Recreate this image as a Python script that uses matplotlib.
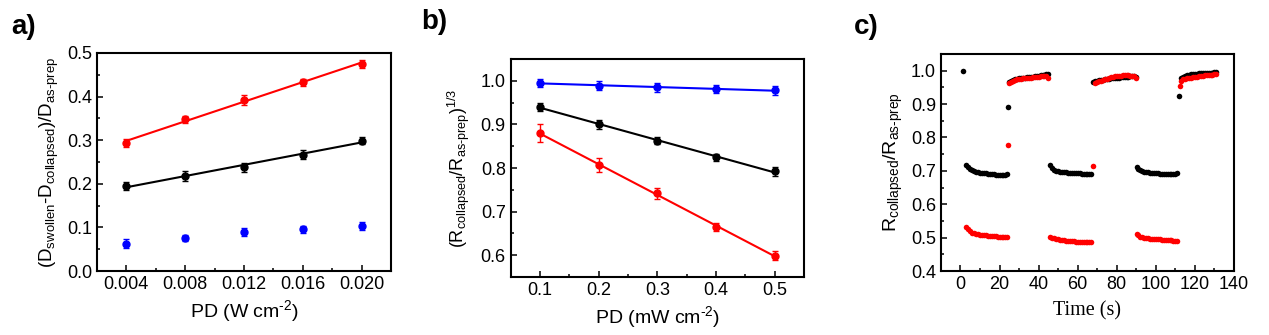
import numpy as np
import matplotlib
matplotlib.use("Agg")
import matplotlib.pyplot as plt
from matplotlib.ticker import MultipleLocator, AutoMinorLocator

plt.rcParams['font.family'] = ['Liberation Sans', 'DejaVu Sans']
plt.rcParams['mathtext.fontset'] = 'custom'
plt.rcParams['mathtext.rm'] = 'Liberation Sans'
plt.rcParams['mathtext.it'] = 'Liberation Sans:italic'
plt.rcParams['mathtext.bf'] = 'Liberation Sans:bold'

# ---- panel a: relative size change vs power density ----
pd_a = [0.004, 0.008, 0.012, 0.016, 0.020]
a_red = [0.293, 0.348, 0.392, 0.433, 0.475]
a_red_err = [0.009, 0.008, 0.011, 0.008, 0.009]
a_black = [0.195, 0.218, 0.238, 0.267, 0.299]
a_black_err = [0.010, 0.011, 0.010, 0.010, 0.008]
a_blue = [0.063, 0.076, 0.089, 0.096, 0.103]
a_blue_err = [0.010, 0.007, 0.009, 0.008, 0.010]

# ---- panel b: cube-root resistance ratio vs power density ----
pd_b = [0.1, 0.2, 0.3, 0.4, 0.5]
b_blue = [0.995, 0.989, 0.985, 0.981, 0.978]
b_blue_err = [0.010, 0.011, 0.011, 0.009, 0.011]
b_black = [0.940, 0.900, 0.863, 0.825, 0.792]
b_black_err = [0.010, 0.010, 0.007, 0.008, 0.010]
b_red = [0.880, 0.806, 0.742, 0.665, 0.599]
b_red_err = [0.021, 0.016, 0.013, 0.009, 0.010]

# ---- panel c: switching cycles over time ----
black_t = [1.5,
           3, 4, 5, 6, 7, 8, 9, 10, 11, 12, 13, 14, 15, 16, 17, 18, 19, 20, 21, 22, 23, 24,
           24.5,
           25, 26, 27, 28, 29, 30, 31, 32, 33, 34, 35, 36, 37, 38, 39, 40, 41, 42, 43, 44, 45,
           46, 47, 48, 49, 50, 51, 52, 53, 54, 55, 56, 57, 58, 59, 60, 61, 62, 63, 64, 65, 66, 67,
           68, 69, 70, 71, 72, 73, 74, 75, 76, 77, 78, 79, 80, 81, 82, 83, 84, 85, 86, 87, 88, 89, 90,
           90.5, 91, 92, 93, 94, 95, 96, 97, 98, 99, 100, 101, 102, 103, 104, 105, 106, 107, 108, 109, 110, 111,
           112,
           113, 114, 115, 116, 117, 118, 119, 120, 121, 122, 123, 124, 125, 126, 127, 128, 129, 130, 131]
black_r = [1.000,
           0.718, 0.712, 0.706, 0.701, 0.698, 0.696, 0.695, 0.694, 0.693, 0.693, 0.692, 0.691,
           0.690, 0.690, 0.689, 0.688, 0.688, 0.687, 0.687, 0.686, 0.686, 0.690,
           0.892,
           0.965, 0.970, 0.973, 0.975, 0.976, 0.977, 0.978, 0.978, 0.979, 0.980, 0.981, 0.981,
           0.982, 0.983, 0.984, 0.985, 0.986, 0.987, 0.988, 0.989, 0.991,
           0.716, 0.708, 0.703, 0.700, 0.698, 0.697, 0.696, 0.695, 0.695, 0.694, 0.694, 0.693,
           0.693, 0.692, 0.692, 0.692, 0.691, 0.691, 0.691, 0.691, 0.690, 0.689,
           0.966, 0.968, 0.970, 0.971, 0.972, 0.973, 0.974, 0.975, 0.976, 0.977, 0.977, 0.978,
           0.979, 0.979, 0.980, 0.981, 0.981, 0.982, 0.982, 0.983, 0.984, 0.983, 0.981,
           0.711, 0.706, 0.702, 0.699, 0.697, 0.696, 0.695, 0.694, 0.693, 0.693, 0.692, 0.692,
           0.691, 0.691, 0.691, 0.690, 0.690, 0.690, 0.690, 0.690, 0.690, 0.692,
           0.925,
           0.977, 0.982, 0.985, 0.987, 0.988, 0.989, 0.990, 0.991, 0.991, 0.992, 0.992, 0.993,
           0.993, 0.993, 0.994, 0.994, 0.994, 0.995, 0.996]

red_t = [3, 4, 5, 6, 7, 8, 9, 10, 11, 12, 13, 14, 15, 16, 17, 18, 19, 20, 21, 22, 23, 24,
         24.5,
         25, 26, 27, 28, 29, 30, 31, 32, 33, 34, 35, 36, 37, 38, 39, 40, 41, 42, 43, 44, 45,
         46, 47, 48, 49, 50, 51, 52, 53, 54, 55, 56, 57, 58, 59, 60, 61, 62, 63, 64, 65, 66, 67,
         68,
         69, 70, 71, 72, 73, 74, 75, 76, 77, 78, 79, 80, 81, 82, 83, 84, 85, 86, 87, 88, 89, 90,
         90.5, 91, 92, 93, 94, 95, 96, 97, 98, 99, 100, 101, 102, 103, 104, 105, 106, 107, 108, 109, 110, 111,
         112.5,
         113, 114, 115, 116, 117, 118, 119, 120, 121, 122, 123, 124, 125, 126, 127, 128, 129, 130, 131]
red_r = [0.533, 0.525, 0.519, 0.515, 0.513, 0.511, 0.510, 0.509, 0.508, 0.508, 0.507, 0.506,
         0.506, 0.505, 0.504, 0.504, 0.503, 0.503, 0.502, 0.502, 0.501, 0.501,
         0.777,
         0.962, 0.967, 0.970, 0.972, 0.974, 0.975, 0.976, 0.977, 0.977, 0.978, 0.979, 0.979,
         0.980, 0.981, 0.982, 0.982, 0.983, 0.984, 0.984, 0.985, 0.977,
         0.503, 0.500, 0.498, 0.496, 0.495, 0.494, 0.493, 0.492, 0.491, 0.491, 0.490, 0.489,
         0.489, 0.488, 0.488, 0.487, 0.487, 0.487, 0.486, 0.486, 0.486, 0.486,
         0.715,
         0.962, 0.966, 0.968, 0.970, 0.972, 0.974, 0.976, 0.978, 0.980, 0.982, 0.983, 0.984,
         0.985, 0.985, 0.986, 0.986, 0.986, 0.986, 0.985, 0.985, 0.984, 0.979,
         0.512, 0.507, 0.503, 0.501, 0.500, 0.499, 0.498, 0.497, 0.497, 0.496, 0.496, 0.495,
         0.495, 0.494, 0.494, 0.493, 0.493, 0.492, 0.492, 0.491, 0.491, 0.491,
         0.955,
         0.970, 0.974, 0.976, 0.977, 0.978, 0.979, 0.980, 0.981, 0.982, 0.983, 0.984, 0.985,
         0.986, 0.986, 0.987, 0.988, 0.988, 0.989, 0.990]

RED, BLACK, BLUE = '#ff0000', '#000000', '#0000ff'
TICK_FS = 13
LABEL_FS = 14

fig = plt.figure(figsize=(12.69, 3.35), dpi=100)
ax_a = fig.add_axes([0.0764, 0.191, 0.2317, 0.651])
ax_b = fig.add_axes([0.4024, 0.173, 0.2311, 0.651])
ax_c = fig.add_axes([0.7415, 0.191, 0.2309, 0.648])


def style(ax):
    for s in ax.spines.values():
        s.set_linewidth(1.5)
    ax.tick_params(which='both', direction='in', top=False, right=False,
                   labelsize=TICK_FS, width=1.1)
    ax.tick_params(which='major', length=4.5)
    ax.tick_params(which='minor', length=2.5)
    ax.xaxis.set_minor_locator(AutoMinorLocator(2))
    ax.yaxis.set_minor_locator(AutoMinorLocator(2))


def points(ax, x, y, err, color, fit=True):
    ax.errorbar(x, y, yerr=err, fmt='o', color=color, ms=5, capsize=2.5,
                elinewidth=1.0, capthick=1.0, ecolor=color, zorder=3)
    if fit:
        k, b = np.polyfit(x, y, 1)
        xx = np.array([x[0], x[-1]])
        ax.plot(xx, k * xx + b, color=color, lw=1.5, zorder=2)


# panel a
points(ax_a, pd_a, a_red, a_red_err, RED)
points(ax_a, pd_a, a_black, a_black_err, BLACK)
points(ax_a, pd_a, a_blue, a_blue_err, BLUE, fit=False)
ax_a.set_xlim(0.002, 0.022)
ax_a.set_ylim(0.0, 0.5)
ax_a.set_xticks(pd_a)
ax_a.set_xticklabels(['0.004', '0.008', '0.012', '0.016', '0.020'])
ax_a.yaxis.set_major_locator(MultipleLocator(0.1))
style(ax_a)
ax_a.set_xlabel(r'PD (W cm$^{\text{-2}}$)', fontsize=LABEL_FS)
ax_a.set_ylabel(r'(D$_{\mathrm{swollen}}$-D$_{\mathrm{collapsed}}$)/D$_{\mathrm{as\text{-}prep}}$',
                fontsize=LABEL_FS - 0.5, labelpad=4)

# panel b
points(ax_b, pd_b, b_blue, b_blue_err, BLUE)
points(ax_b, pd_b, b_black, b_black_err, BLACK)
points(ax_b, pd_b, b_red, b_red_err, RED)
ax_b.set_xlim(0.05, 0.55)
ax_b.set_ylim(0.55, 1.05)
ax_b.set_xticks(pd_b)
ax_b.yaxis.set_major_locator(MultipleLocator(0.1))
style(ax_b)
ax_b.set_xlabel(r'PD (mW cm$^{\text{-2}}$)', fontsize=LABEL_FS)
ax_b.set_ylabel(r'(R$_{\mathrm{collapsed}}$/R$_{\mathrm{as\text{-}prep}}$)$^{\mathrm{1/3}}$',
                fontsize=LABEL_FS - 1, labelpad=6)

# panel c
ax_c.plot(red_t, red_r, 'o', color=RED, ms=4.0, mec='none', zorder=3)
ax_c.plot(black_t, black_r, 'o', color=BLACK, ms=4.0, mec='none', zorder=2)
ax_c.set_xlim(-10, 140)
ax_c.set_ylim(0.4, 1.05)
ax_c.xaxis.set_major_locator(MultipleLocator(20))
ax_c.yaxis.set_major_locator(MultipleLocator(0.1))
style(ax_c)
ax_c.set_xlabel('Time (s)', fontsize=LABEL_FS + 0.5, family='Liberation Serif', labelpad=6)
ax_c.set_ylabel(r'R$_{\mathrm{collapsed}}$/R$_{\mathrm{as\text{-}prep}}$', fontsize=LABEL_FS,
                labelpad=4)

# panel letters
for x, y, lab in [(0.009, 0.88, 'a)'), (0.332, 0.895, 'b)'), (0.673, 0.88, 'c)')]:
    fig.text(x, y, lab, fontsize=20, fontweight='bold', ha='left', va='bottom')

fig.savefig('out.png', dpi=100)
